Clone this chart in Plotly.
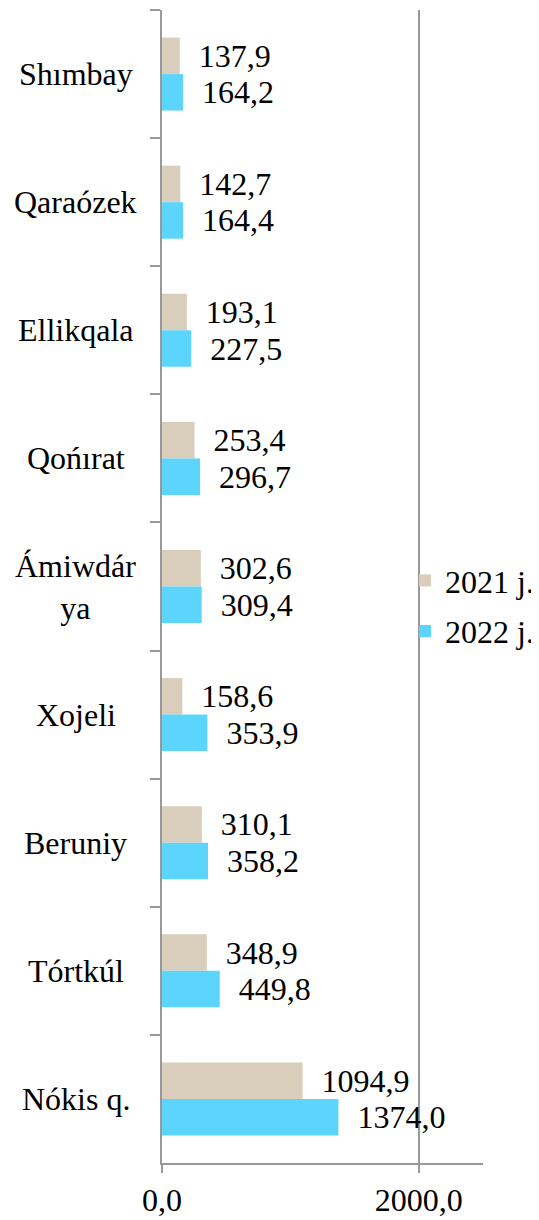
import plotly.graph_objects as go

districts = ["Shımbay", "Qaraózek", "Ellikqala", "Qońırat", "Ámiwdár<br>ya",
             "Xojeli", "Beruniy", "Tórtkúl", "Nókis q."]
values_2021 = [137.9, 142.7, 193.1, 253.4, 302.6, 158.6, 310.1, 348.9, 1094.9]
values_2022 = [164.2, 164.4, 227.5, 296.7, 309.4, 353.9, 358.2, 449.8, 1374.0]
series_names = ["2021 j.", "2022 j."]
x_ticks = [0, 2000]
x_tick_labels = ["0,0", "2000,0"]

FONT = "Liberation Serif"
colors = ["#D9CEBC", "#5CD5FD"]


def fmt(v):
    return "\u00a0\u00a0" + f"{v:.1f}".replace(".", ",")


fig = go.Figure()
for name, vals, col in zip(series_names, [values_2021, values_2022], colors):
    fig.add_trace(go.Bar(
        y=districts, x=vals, name=name, orientation="h", legendgroup=name,
        marker=dict(color=col, line=dict(width=0)),
        text=[fmt(v) for v in vals], textposition="outside",
        textfont=dict(family=FONT, size=32, color="black"),
        cliponaxis=False,
    ))

for d in districts:
    fig.add_annotation(x=-0.268, xref="paper", y=d, yref="y", text=d,
                       showarrow=False, align="center", xanchor="center",
                       font=dict(family=FONT, size=32, color="black"))

fig.update_layout(
    width=531, height=1212,
    margin=dict(l=154, r=56, t=2, b=57, autoexpand=False),
    barmode="group", bargap=0.43, bargroupgap=0,
    plot_bgcolor="white", paper_bgcolor="white",
    font=dict(family=FONT, size=32, color="black"),
    showlegend=True,
    legend=dict(x=0.757, y=0.483, xanchor="left", yanchor="middle",
                bgcolor="rgba(0,0,0,0)", font=dict(family=FONT, size=32),
                itemwidth=30, tracegroupgap=6),
    xaxis=dict(range=[0, 2500], tickvals=x_ticks, ticktext=x_tick_labels,
               showgrid=True, gridcolor="#999999", gridwidth=1.5,
               zeroline=False, showline=True, linecolor="#999999", linewidth=1.5,
               ticks="outside", ticklen=8, tickcolor="#999999", tickwidth=1.5,
               tickfont=dict(family=FONT, size=32)),
    yaxis=dict(autorange="reversed", showticklabels=False,
               tickson="boundaries", ticks="outside", ticklen=10,
               tickcolor="#999999", tickwidth=1.5,
               showline=True, linecolor="#999999", linewidth=1.5,
               showgrid=False, zeroline=False),
)

fig.write_html("out.html")
